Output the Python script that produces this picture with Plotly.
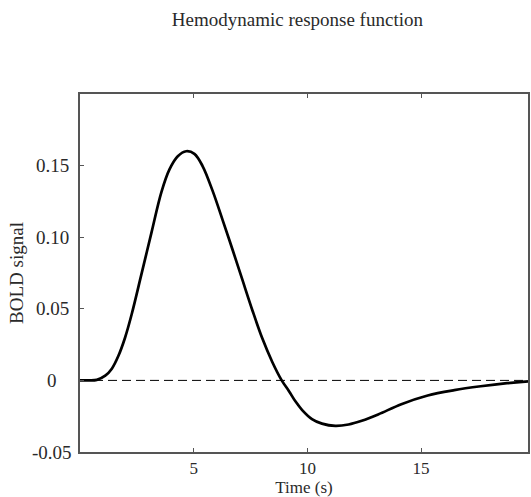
import plotly.graph_objects as go

# Values
time_s = [0.0, 0.4, 0.74, 1.11, 1.40, 1.69, 1.98, 2.27, 2.70, 3.14, 3.58, 3.94, 4.30, 4.67,
          5.03, 5.39, 5.84, 6.28, 6.72, 7.15, 7.59, 8.02, 8.46, 8.87, 9.19, 9.48, 9.77,
          10.20, 10.64, 11.23, 11.81, 12.39, 13.11, 14.13, 15.29, 16.46, 17.62, 18.78,
          19.58, 19.7]
bold = [0.0, 0.0, 0.0004, 0.0033, 0.0082, 0.0172, 0.0298, 0.0460, 0.0740, 0.1030, 0.1315,
        0.1475, 0.1565, 0.1600, 0.1582, 0.1497, 0.1320, 0.1116, 0.0907, 0.0698, 0.0485,
        0.0292, 0.0127, 0.0, -0.0075, -0.0148, -0.0207, -0.0270, -0.0302, -0.0318, -0.0308,
        -0.0282, -0.0238, -0.0166, -0.0105, -0.0068, -0.0041, -0.0019, -0.0008, -0.0007]
x_range = [0, 19.7]
y_range = [-0.05, 0.2]
x_ticks = [5, 10, 15]
y_ticks = [-0.05, 0, 0.05, 0.10, 0.15]
y_tick_text = ["-0.05", "0", "0.05", "0.10", "0.15"]

serif = "Liberation Serif, Times New Roman, serif"
text_color = "#2a2a2a"
axis_color = "#555555"

fig = go.Figure()
fig.add_trace(go.Scatter(x=x_range, y=[0, 0], mode="lines",
                         line=dict(color="black", width=1, dash="9px,5px"),
                         hoverinfo="skip", showlegend=False))
fig.add_trace(go.Scatter(x=time_s, y=bold, mode="lines", line_shape="spline",
                         line=dict(color="black", width=2.7, smoothing=1.0),
                         showlegend=False))

plot_w = 531 - 80 - 1
annotations = [
    dict(x=-28 / plot_w, xref="paper", y=v, yref="y", text=t, showarrow=False,
         xanchor="center", yanchor="middle", font=dict(size=19, family=serif, color=text_color))
    for v, t in zip(y_ticks, y_tick_text)
]

fig.update_layout(
    width=531, height=497,
    margin=dict(l=80, r=1, t=94, b=45),
    paper_bgcolor="white", plot_bgcolor="white",
    font=dict(family=serif, color=text_color, size=17),
    title=dict(text="Hemodynamic response function", x=0.56, xanchor="center",
               y=1 - 19 / 497, yanchor="middle",
               font=dict(size=19, family=serif, color=text_color)),
    annotations=annotations,
)
fig.update_xaxes(range=x_range, tickvals=x_ticks, ticks="inside", ticklen=4,
                 tickcolor=axis_color, showline=True, linecolor=axis_color, linewidth=1.5,
                 mirror="ticks", showgrid=False, zeroline=False,
                 title=dict(text="Time (s)", standoff=2, font=dict(size=17)),
                 tickfont=dict(size=17))
fig.update_yaxes(range=y_range, tickvals=y_ticks, ticks="inside", showticklabels=False,
                 ticklen=4, tickcolor=axis_color, showline=True, linecolor=axis_color,
                 linewidth=1.5, mirror=True, showgrid=False, zeroline=False,
                 title=dict(text="BOLD signal", standoff=50, font=dict(size=19)))

fig.write_html("out.html")
